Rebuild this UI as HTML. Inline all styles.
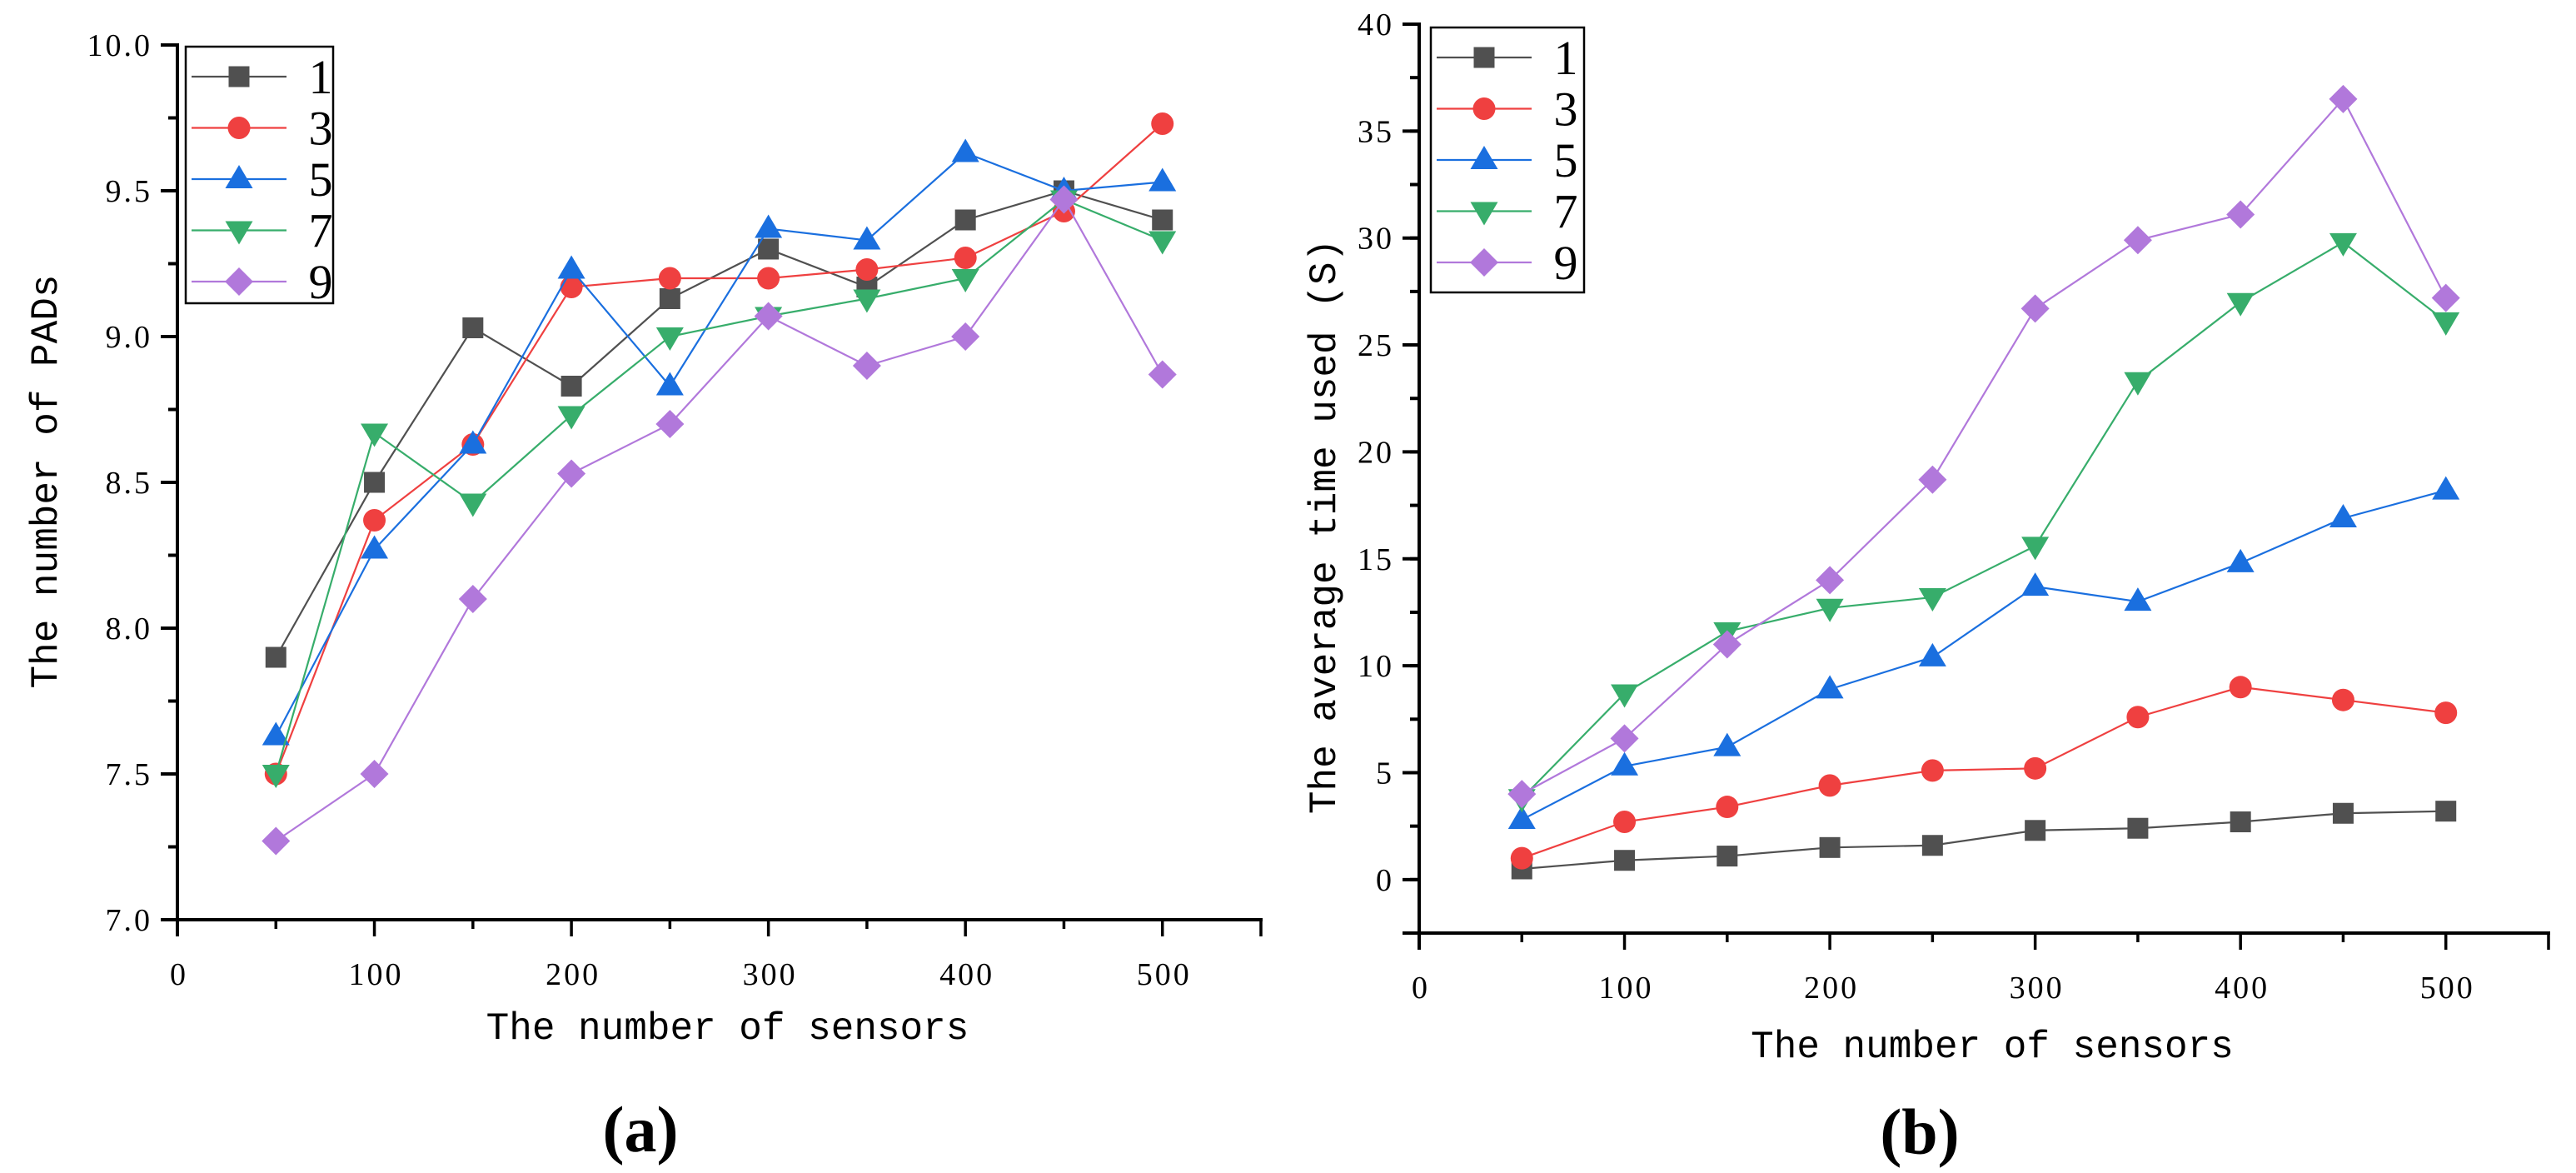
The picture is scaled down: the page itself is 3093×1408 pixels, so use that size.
<!DOCTYPE html>
<html><head><meta charset="utf-8"><style>
html,body{margin:0;padding:0;background:#fff;}
svg{display:block;}
.tk{font-family:"Liberation Serif",serif;font-size:38px;letter-spacing:3px;}
.ttl{font-family:"Liberation Mono",monospace;font-size:46px;}
.lg{font-family:"Liberation Serif",serif;font-size:58px;}
.cap{font-family:"Liberation Serif",serif;font-size:78px;font-weight:bold;}
</style></head>
<body>
<svg id="svg" width="3093" height="1408" viewBox="0 0 3093 1408" xmlns="http://www.w3.org/2000/svg"></svg>
<script>
const categories = [50,100,150,200,250,300,350,400,450,500];
const seriesNames = ["1","3","5","7","9"];
const a1 = [7.9,8.5,9.03,8.83,9.13,9.3,9.17,9.4,9.5,9.4];
const a3 = [7.5,8.37,8.63,9.17,9.2,9.2,9.23,9.27,9.43,9.73];
const a5 = [7.63,8.27,8.63,9.23,8.83,9.37,9.33,9.63,9.5,9.53];
const a7 = [7.5,8.67,8.43,8.73,9.0,9.07,9.13,9.2,9.47,9.33];
const a9 = [7.27,7.5,8.1,8.53,8.7,9.07,8.9,9.0,9.47,8.87];
const b1 = [0.5,0.9,1.1,1.5,1.6,2.3,2.4,2.7,3.1,3.2];
const b3 = [1.0,2.7,3.4,4.4,5.1,5.2,7.6,9.0,8.4,7.8];
const b5 = [2.8,5.3,6.2,8.9,10.4,13.7,13.0,14.8,16.9,18.2];
const b7 = [3.8,8.7,11.6,12.7,13.2,15.6,23.3,27.0,29.8,26.1];
const b9 = [4.0,6.6,11.0,14.0,18.7,26.7,29.9,31.1,36.5,27.2];
const xTicks = [0,100,200,300,400,500];
const aYTicks = ["7.0","7.5","8.0","8.5","9.0","9.5","10.0"];
const bYTicks = ["0","5","10","15","20","25","30","35","40"];

const NS="http://www.w3.org/2000/svg";
const svg=document.getElementById('svg');
const colors=["#505050","#ef4040","#1a6fdf","#37ad6b","#b178db"];
const shapes=["square","circle","up","down","diamond"];
function el(tag,attrs,parent){const e=document.createElementNS(NS,tag);for(const k in attrs)e.setAttribute(k,attrs[k]);(parent||svg).appendChild(e);return e;}
function marker(shape,x,y,c,g){
  if(shape==="square") return el('rect',{x:x-12.5,y:y-12.5,width:25,height:25,fill:c},g);
  if(shape==="circle") return el('circle',{cx:x,cy:y,r:13.5,fill:c},g);
  if(shape==="up") return el('polygon',{points:`${x},${y-17} ${x+16.5},${y+11} ${x-16.5},${y+11}`,fill:c},g);
  if(shape==="down") return el('polygon',{points:`${x},${y+17} ${x+16.5},${y-11} ${x-16.5},${y-11}`,fill:c},g);
  return el('polygon',{points:`${x},${y-17} ${x+17},${y} ${x},${y+17} ${x-17},${y}`,fill:c},g);
}
function panel(p){
  const g=el('g',{});
  
  
  const X=v=>p.x0+(v-0)/550*(p.xEnd-p.x0);
  const Y=v=>p.yBot+(v-p.yMin)/(p.yMax-p.yMin)*(p.yTop-p.yBot);
  p.series.forEach((s,i)=>{
    const sg=el('g',{},g);
    
    
    const pts=categories.map((c,j)=>X(c)+','+Y(s[j])).join(' ');
    el('polyline',{points:pts,fill:'none',stroke:colors[i],'stroke-width':2.2},sg);
    categories.forEach((c,j)=>{const m=marker(shapes[i],X(c),Y(s[j]),colors[i],sg);
      
      });
  });
  const ax=el('g',{},g);
  
  
  el('line',{x1:p.x0,y1:p.yTop-2,x2:p.x0,y2:p.yBot+20,stroke:'#000','stroke-width':4},ax);
  el('line',{x1:p.x0-20,y1:p.yBot,x2:p.xEnd+2,y2:p.yBot,stroke:'#000','stroke-width':4},ax);
  for(let v=0;v<=550;v+=50){const maj=v%100===0||v===550;
    el('line',{x1:X(v),y1:p.yBot,x2:X(v),y2:p.yBot+(maj?20:11),stroke:'#000','stroke-width':3.5},ax);}
  xTicks.forEach(v=>{const t=el('text',{x:X(v)+2,y:p.xLabY,'text-anchor':'middle',class:'tk'},ax);t.textContent=v;
    });
  p.yTickLabels.forEach(lbl=>{const v=parseFloat(lbl);
    el('line',{x1:p.x0-20,y1:Y(v),x2:p.x0,y2:Y(v),stroke:'#000','stroke-width':4},ax);
    const t=el('text',{x:p.x0-30,y:Y(v)+13,'text-anchor':'end',class:'tk'},ax);t.textContent=lbl;
    });
  for(let v=p.yMin;v<=p.yMax+1e-9;v+=p.minor){
    el('line',{x1:p.x0-11,y1:Y(v),x2:p.x0,y2:Y(v),stroke:'#000','stroke-width':4},ax);}
  const xt=el('text',{x:(p.x0+p.xEnd)/2+10,y:p.xTitleY,'text-anchor':'middle',class:'ttl'},g);
  xt.textContent='The number of sensors';
  
  const yt=el('text',{x:0,y:0,'text-anchor':'middle',class:'ttl',transform:`translate(${p.yTitleX},${p.yTitleY}) rotate(-90)`},g);
  yt.textContent=p.yTitle;
  
  const cp=el('text',{x:p.capX,y:p.capY,'text-anchor':'middle',class:'cap'},g);
  cp.textContent=p.cap;
  
  const L=p.legend;
  const lg=el('g',{},g);
  
  
  el('rect',{x:L.x,y:L.y,width:L.w,height:L.h,fill:'#fff',stroke:'#000','stroke-width':2.5},lg);
  seriesNames.forEach((n,i)=>{const ry=L.y+36+i*61.5;
    const e=el('g',{},lg);
    
    
    el('line',{x1:L.x+7,y1:ry,x2:L.x+121,y2:ry,stroke:colors[i],'stroke-width':2.2},e);
    marker(shapes[i],L.x+64,ry,colors[i],e);
    const t=el('text',{x:L.x+162,y:ry+20,'text-anchor':'middle',class:'lg'},e);t.textContent=n;});
}
panel({name:'chart-a',x0:213,xEnd:1514,yTop:54,yBot:1104,yMin:7,yMax:10,minor:0.25,
  series:[a1,a3,a5,a7,a9],yTickLabels:aYTicks,xLabY:1182,xTitleY:1247,
  yTitle:'The number of PADs',yTitleX:68,yTitleY:578,cap:'(a)',capX:769,capY:1382,
  legend:{x:223,y:56,w:177,h:308}});
panel({name:'chart-b',x0:1704,xEnd:3060,yTop:29,yBot:1120,yMin:-2.5,yMax:40,minor:2.5,
  series:[b1,b3,b5,b7,b9],yTickLabels:bYTicks,xLabY:1198,xTitleY:1269,
  yTitle:'The average time used (S)',yTitleX:1603,yTitleY:632,cap:'(b)',capX:2305,capY:1385,
  legend:{x:1718,y:33,w:184,h:318}});
</script>
</body></html>
